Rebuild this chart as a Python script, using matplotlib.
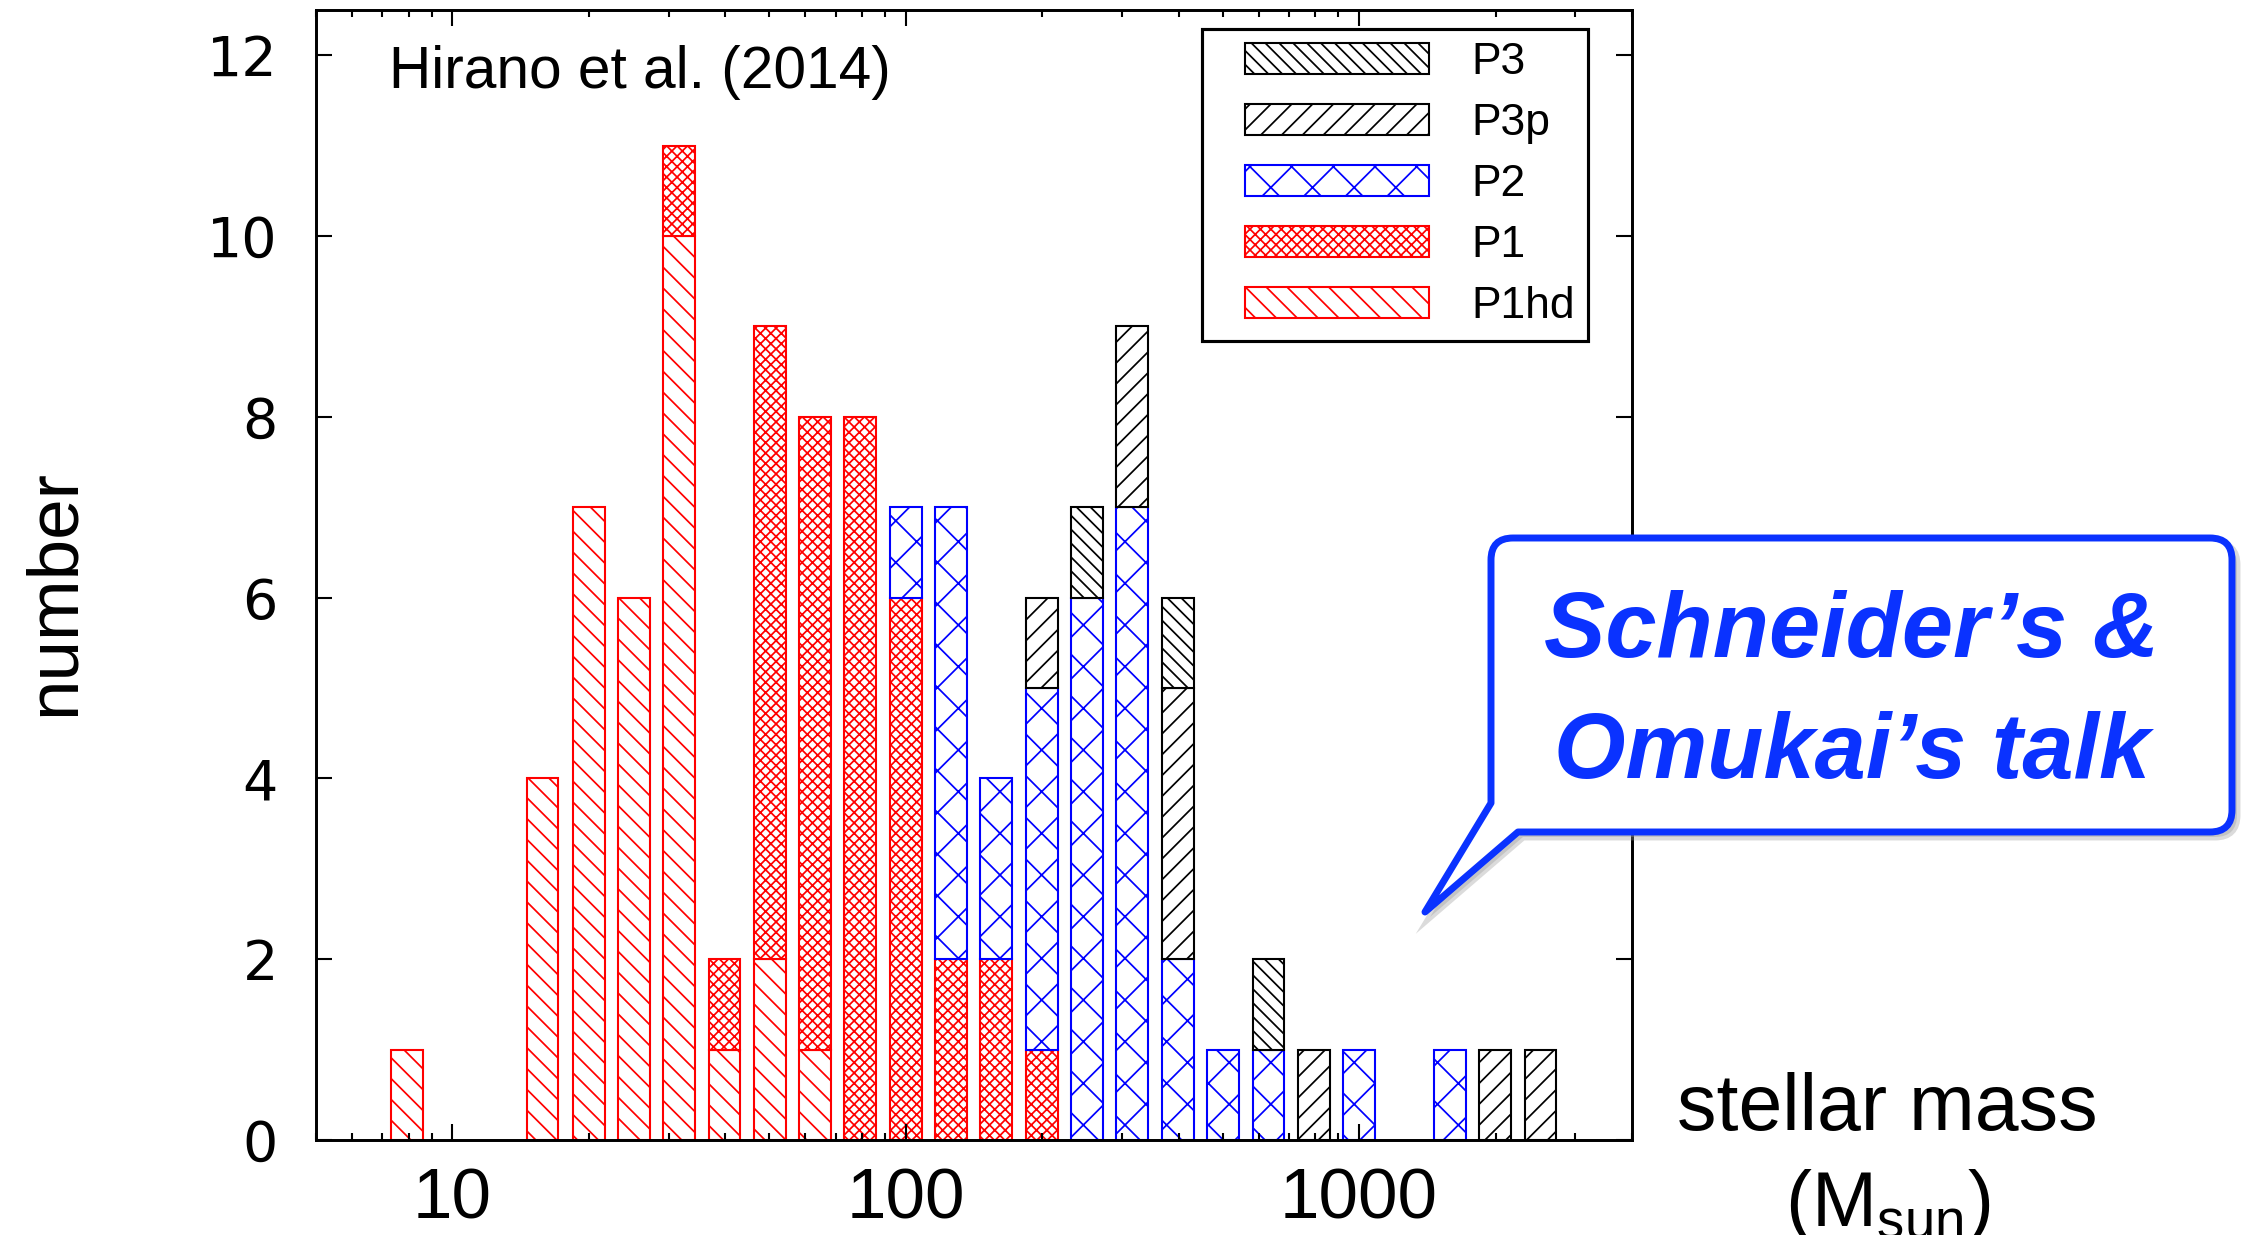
import numpy as np
import matplotlib
matplotlib.use('Agg')
import matplotlib.pyplot as plt
from matplotlib.patches import Rectangle, PathPatch
from matplotlib.path import Path
from matplotlib.legend_handler import HandlerPatch
from matplotlib.ticker import LogLocator, NullFormatter, FuncFormatter

# histogram bins (stellar mass, Msun) and counts per population
mass_bins = [7.94, 10.0, 12.6, 15.8, 20.0, 25.1, 31.6, 39.8, 50.1, 63.1, 79.4, 100,
             126, 158, 200, 251, 316, 398, 501, 631, 794, 1000, 1259, 1585, 1995, 2512]
p1hd = [1, 0, 0, 4, 7, 6, 10, 1, 2, 1, 0, 0, 0, 0, 0, 0, 0, 0, 0, 0, 0, 0, 0, 0, 0, 0]
p1 = [0, 0, 0, 0, 0, 0, 1, 1, 7, 7, 8, 6, 2, 2, 1, 0, 0, 0, 0, 0, 0, 0, 0, 0, 0, 0]
p2 = [0, 0, 0, 0, 0, 0, 0, 0, 0, 0, 0, 1, 5, 2, 4, 6, 7, 2, 1, 1, 0, 1, 0, 1, 0, 0]
p3p = [0, 0, 0, 0, 0, 0, 0, 0, 0, 0, 0, 0, 0, 0, 1, 0, 2, 3, 0, 0, 1, 0, 0, 0, 1, 1]
p3 = [0, 0, 0, 0, 0, 0, 0, 0, 0, 0, 0, 0, 0, 0, 0, 1, 0, 1, 0, 1, 0, 0, 0, 0, 0, 0]

series_names = ['P1hd', 'P1', 'P2', 'P3p', 'P3']
series_counts = [p1hd, p1, p2, p3p, p3]
series_colors = ['#ff0000', '#ff0000', '#0000ff', 'black', 'black']
series_hatch = ['\\' * 4, 'x' * 8, 'xx', '////', '\\' * 6]

W, H, DPI = 2249, 1235, 250
BLUE = '#0a32ff'

plt.rcParams['font.family'] = 'Liberation Sans'
plt.rcParams['mathtext.fontset'] = 'custom'
plt.rcParams['mathtext.rm'] = 'Liberation Sans'
plt.rcParams['hatch.linewidth'] = 0.5


def px(x, y):
    # pixel position (from top-left) -> figure fraction
    return x / W, 1 - y / H


fig = plt.figure(figsize=(W / DPI, H / DPI), dpi=DPI)
ax = fig.add_axes([316 / W, 1 - 1140 / H, (1632 - 316) / W, (1140 - 10) / H])

# stacked bars, bins 0.07 dex wide on the log axis
bar_dex = 0.07
log_c = np.log10(mass_bins)
left = 10 ** (log_c - bar_dex / 2)
widths = 10 ** (log_c + bar_dex / 2) - left
bottom = np.zeros(len(mass_bins))
handles = {}
for name, counts, color, hatch in zip(series_names, series_counts, series_colors, series_hatch):
    counts = np.array(counts, dtype=float)
    m = counts > 0
    bars = ax.bar(left[m], counts[m], width=widths[m], bottom=bottom[m], align='edge',
                  facecolor='white', edgecolor=color, hatch=hatch, linewidth=0.6)
    handles[name] = bars.patches[0]
    bottom += counts

ax.set_xscale('log')
ax.set_xlim(5, 4000)
ax.set_ylim(0, 12.5)
ax.set_yticks(range(0, 13, 2))
ax.xaxis.set_major_locator(LogLocator(base=10))
ax.xaxis.set_major_formatter(FuncFormatter(lambda v, _: f'{v:g}'))
ax.xaxis.set_minor_locator(LogLocator(base=10, subs=np.arange(2, 10)))
ax.xaxis.set_minor_formatter(NullFormatter())
ax.tick_params(which='both', direction='in', top=True, right=True, width=0.6)
ax.tick_params(which='major', length=4.5)
ax.tick_params(which='minor', length=2)
ax.tick_params(axis='x', labelsize=20.5, pad=7.8)
ax.tick_params(axis='y', labelsize=16, pad=11)
for lab in ax.get_yticklabels():
    lab.set_fontfamily('DejaVu Sans')
for sp in ax.spines.values():
    sp.set_linewidth(0.85)

fig.text(*px(55, 592), 'number', rotation=90, fontsize=21, ha='center', va='center')
fig.text(*px(1887, 1130), 'stellar mass', fontsize=22.7, ha='center', va='baseline')
fig.text(*px(1888, 1226), r'(M$_{\mathrm{sun}}$)', fontsize=22.5, ha='center', va='baseline')
fig.text(*px(389, 88), 'Hirano et al. (2014)', fontsize=16.9, ha='left', va='baseline')

# legend (top entry = top of stack)
shift_pt = 8.5


def swatch(legend, orig_handle, xdescent, ydescent, width, height, fontsize):
    return Rectangle((-xdescent + shift_pt, -ydescent), width - shift_pt, height)


order = ['P3', 'P3p', 'P2', 'P1', 'P1hd']
leg = ax.legend([handles[n] for n in order], order, loc='upper left',
                bbox_to_anchor=px(1202, 29), bbox_transform=fig.transFigure,
                borderaxespad=0, fontsize=12.8, handlelength=4.8, handleheight=0.7,
                handletextpad=0.95, labelspacing=0.45, borderpad=0.3,
                fancybox=False, framealpha=1, edgecolor='black',
                handler_map={Rectangle: HandlerPatch(patch_func=swatch)})
leg.get_frame().set_linewidth(0.9)

# speech-bubble callout
L, R, T, B, r = 1491, 2232, 538, 832, 22
pts = [(L + r, T), (R - r, T), (R, T), (R, T + r), (R, B - r), (R, B), (R - r, B),
       (1518, B), (1425, 912), (L, 803), (L, T + r), (L, T), (L + r, T), (L + r, T)]
codes = [Path.MOVETO, Path.LINETO, Path.CURVE3, Path.CURVE3, Path.LINETO, Path.CURVE3,
         Path.CURVE3, Path.LINETO, Path.LINETO, Path.LINETO, Path.LINETO, Path.CURVE3,
         Path.CURVE3, Path.CLOSEPOLY]
shadow = Path([px(x + 5, y + 5) for x, y in pts], codes)
bubble = Path([px(x, y) for x, y in pts], codes)
fig.add_artist(PathPatch(shadow, transform=fig.transFigure, facecolor='#999999',
                         edgecolor='#999999', linewidth=2, alpha=0.35, zorder=9))
fig.add_artist(PathPatch(bubble, transform=fig.transFigure, facecolor='white',
                         edgecolor=BLUE, linewidth=2, joinstyle='round', zorder=10))
fig.text(*px(1852, 657), 'Schneider\u2019s &', fontsize=26.5, fontweight='bold',
         fontstyle='italic', color=BLUE, ha='center', va='baseline', zorder=11)
fig.text(*px(1852, 778), 'Omukai\u2019s talk', fontsize=26.5, fontweight='bold',
         fontstyle='italic', color=BLUE, ha='center', va='baseline', zorder=11)

fig.savefig('out.png', dpi=DPI)
